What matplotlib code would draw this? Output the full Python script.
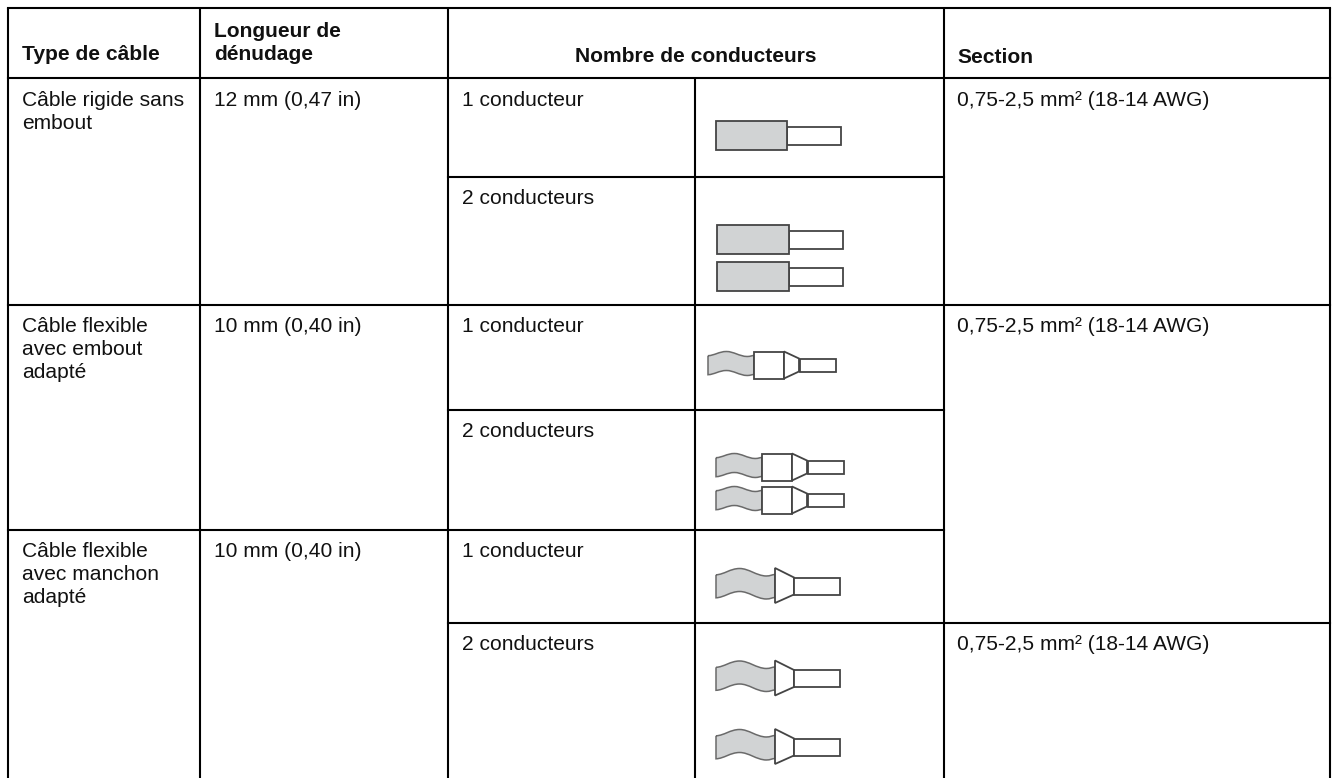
import matplotlib
matplotlib.use("Agg")
import matplotlib.pyplot as plt
from matplotlib.patches import PathPatch, Polygon, Rectangle
from matplotlib.path import Path

W, H = 1334, 778
plt.rcParams['font.family'] = ['Liberation Sans', 'DejaVu Sans']

# table structure
col_x = [8, 200, 448, 695, 944, 1330]
row_y = [8, 78, 177, 305, 410, 530, 623, 778]

headers = [("Type de câble", 22, [60]),
           ("Longueur de\ndénudage", 214, [37, 60]),
           ("Section", 957, [63])]
header_center = "Nombre de conducteurs"

cable_types = ["Câble rigide sans\nembout", "Câble flexible\navec embout\nadapté",
               "Câble flexible\navec manchon\nadapté"]
type_baselines = [[106, 129], [332, 355, 378], [557, 580, 603]]
strip_lengths = ["12 mm (0,47 in)", "10 mm (0,40 in)", "10 mm (0,40 in)"]
strip_baselines = [106, 332, 557]
conductors = ["1 conducteur", "2 conducteurs"] * 3
conductor_baselines = [106, 204, 332, 437, 557, 650]
sections = ["0,75-2,5 mm² (18-14 AWG)"] * 3
section_baselines = [106, 332, 650]

# icons: left, vertical centre
rigid_icons = [(716, 135.5), (717, 239.5), (717, 276.5)]
ferrule_icons = [(708, 365), (716, 467), (716, 500)]
sleeve_icons = [(716, 586), (716, 678.5), (716, 747)]

GREY = "#d1d3d4"
EDGE = "#444444"

fig = plt.figure(figsize=(W / 100, H / 100), dpi=100)
ax = fig.add_axes([0, 0, 1, 1])
ax.set_xlim(0, W)
ax.set_ylim(H, 0)
ax.axis("off")

LW = 1.5


def hline(y, x0, x1):
    ax.plot([x0, x1], [y, y], color="black", lw=LW, solid_capstyle="projecting", zorder=3)


def vline(x, y0, y1):
    ax.plot([x, x], [y0, y1], color="black", lw=LW, solid_capstyle="butt", zorder=3)


hline(row_y[0], col_x[0], col_x[5])
hline(row_y[1], col_x[0], col_x[5])
for i in (0, 1, 2, 4, 5):
    vline(col_x[i], row_y[0], H)
vline(col_x[3], row_y[1], H)
hline(row_y[3], col_x[0], col_x[5])
for r in (2, 4, 5, 6):
    hline(row_y[r], col_x[2], col_x[4])
hline(row_y[5], col_x[0], col_x[2])
hline(row_y[6], col_x[4], col_x[5])

FS = 15.1


def put(x, y, s, **kw):
    ax.text(x, y, s, fontsize=FS, color="#111111", va="baseline", ha=kw.pop("ha", "left"), **kw)


for text, x, baselines in headers:
    for line, y in zip(text.split("\n"), baselines):
        put(x, y, line, fontweight="bold")
put((col_x[2] + col_x[4]) / 2, 62, header_center, fontweight="bold", ha="center")

for text, baselines in zip(cable_types, type_baselines):
    for line, y in zip(text.split("\n"), baselines):
        put(22, y, line)
for text, y in zip(strip_lengths, strip_baselines):
    put(214, y, text)
for text, y in zip(conductors, conductor_baselines):
    put(462, y, text)
for text, y in zip(sections, section_baselines):
    put(957, y, text)


def box(x0, y0, x1, y1, fc):
    ax.add_patch(Rectangle((x0, y0), x1 - x0, y1 - y0, fc=fc, ec=EDGE, lw=1.3, joinstyle="miter", zorder=4))


def wave(x0, x1, cy, half, amp):
    """Wavy cable jacket: rises to a crest, falls to a slight trough, ends level."""
    w = x1 - x0
    def edge(base):
        return [(x0, base + amp * .05),
                (x0 + .14 * w, base), (x0 + .24 * w, base - amp), (x0 + .40 * w, base - amp),
                (x0 + .56 * w, base - amp), (x0 + .68 * w, base + amp * .2), (x0 + .85 * w, base + amp * .25),
                (x0 + .92 * w, base + amp * .25), (x0 + .96 * w, base), (x1, base)]
    top = edge(cy - half)
    bot = edge(cy + half)[::-1]
    verts = top + bot + [top[0]]
    codes = ([Path.MOVETO] + [Path.CURVE4] * 9 + [Path.LINETO] + [Path.CURVE4] * 9 + [Path.LINETO])
    ax.add_patch(PathPatch(Path(verts, codes), fc=GREY, ec="#6a6a6a", lw=1.1, zorder=4))


for x, cy in rigid_icons:
    off = 71 + (1 if x == 717 else 0)
    box(x + off, cy - 9, x + off + 54, cy + 9, "white")
    box(x, cy - 14.5, x + off, cy + 14.5, GREY)

for x, cy in ferrule_icons:
    wave(x, x + 46, cy, 9.5, 4)
    box(x + 46, cy - 13.5, x + 76, cy + 13.5, "white")
    ax.add_patch(Polygon([(x + 76, cy - 13.5), (x + 91, cy - 6.5), (x + 91, cy + 6.5), (x + 76, cy + 13.5)],
                         closed=True, fc="white", ec=EDGE, lw=1.3, zorder=4))
    box(x + 92, cy - 6.5, x + 128, cy + 6.5, "white")

for x, cy in sleeve_icons:
    wave(x, x + 59, cy, 11.5, 6)
    ax.add_patch(Polygon([(x + 59, cy - 18), (x + 78, cy - 8.5), (x + 78, cy + 8.5), (x + 59, cy + 17)],
                         closed=True, fc="white", ec=EDGE, lw=1.3, zorder=4))
    box(x + 78, cy - 8.5, x + 124, cy + 8.5, "white")

fig.savefig("out.png", dpi=100, facecolor="white")
